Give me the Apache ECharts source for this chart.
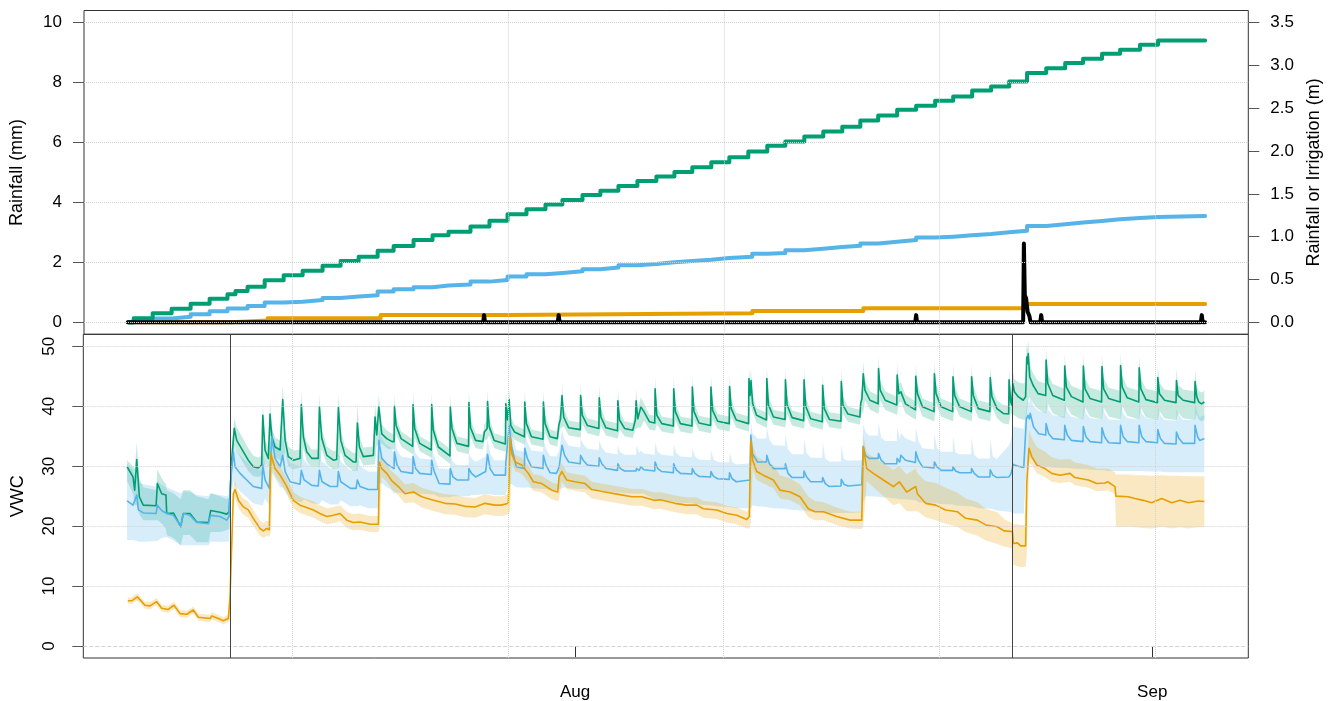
<!DOCTYPE html>
<html><head><meta charset="utf-8">
<script src="https://cdn.jsdelivr.net/npm/echarts@6/dist/echarts.min.js"></script>
<style>html,body{margin:0;padding:0;background:#fff}#c{width:1334px;height:701px}</style>
</head><body><div id="c"></div>
<script>
// x values are days since 1 July (1 Aug = 31, 1 Sep = 62)
const monthTicks = [31, 62];
const monthLabels = ['Aug', 'Sep'];
const gridDays = [15.80, 27.39, 38.98, 50.56, 62.15];
const eventDays = [12.47, 54.47];
const rainTicks = [0, 2, 4, 6, 8, 10];
const cumTicks = [0, 0.5, 1, 1.5, 2, 2.5, 3, 3.5];
const vwcTicks = [0, 10, 20, 30, 40, 50];

// rainfall (mm), left axis of top panel
const rainMm = [[6.94,0],[26.04,0],[26.09,0.24],[26.14,0],[30.05,0],[30.10,0.24],[30.15,0],[49.26,0],[49.31,0.24],[49.36,0],[55.06,0],[55.10,2.63],[55.15,0.9],[55.22,0.8],[55.30,0.35],[55.40,0.2],[55.46,0],[55.98,0],[56.03,0.24],[56.08,0],[64.61,0],[64.66,0.24],[64.71,0],[64.84,0]];

// cumulative rainfall or irrigation (m), right axis of top panel
const cumGreen = [[6.98,0],[7.26,0.047],[8.28,0.105],[9.30,0.159],[10.32,0.217],[11.34,0.276],[12.30,0.327],[12.73,0.366],[13.38,0.416],[14.30,0.49],[15.32,0.549],[16.34,0.603],[17.41,0.661],[18.38,0.716],[19.35,0.766],[20.37,0.836],[21.23,0.891],[22.30,0.961],[23.32,1.016],[24.18,1.058],[25.36,1.117],[26.38,1.187],[27.35,1.262],[28.37,1.320],[29.39,1.374],[30.30,1.429],[31.38,1.487],[32.34,1.537],[33.31,1.592],[34.33,1.651],[35.35,1.701],[36.32,1.756],[37.28,1.811],[38.30,1.869],[39.27,1.928],[40.29,1.993],[41.31,2.060],[42.28,2.110],[43.30,2.168],[44.32,2.227],[45.34,2.282],[46.31,2.355],[47.27,2.414],[48.29,2.480],[49.31,2.527],[50.33,2.585],[51.30,2.636],[52.32,2.706],[53.34,2.752],[54.31,2.811],[55.27,2.909],[56.30,2.967],[57.32,3.026],[58.28,3.076],[59.30,3.134],[60.27,3.181],[61.34,3.239],[62.31,3.290],[64.84,3.290]];
const cumBlue = [[6.98,0],[7.26,0.02],[8.28,0.045],[9.30,0.065],[10.32,0.095],[11.34,0.13],[12.30,0.16],[13.38,0.19],[14.30,0.23],[15.32,0.24],[16.34,0.26],[17.41,0.285],[18.38,0.30],[19.35,0.315],[20.37,0.36],[21.23,0.385],[22.30,0.41],[23.32,0.43],[24.18,0.44],[25.36,0.475],[26.38,0.495],[27.35,0.535],[28.37,0.56],[29.39,0.575],[30.30,0.595],[31.38,0.62],[32.34,0.64],[33.31,0.665],[34.33,0.68],[35.35,0.70],[36.32,0.715],[37.28,0.73],[38.30,0.75],[39.27,0.765],[40.50,0.80],[41.31,0.81],[42.28,0.84],[43.30,0.86],[44.32,0.878],[45.34,0.893],[46.31,0.92],[47.27,0.94],[48.29,0.96],[49.31,0.989],[50.33,1.00],[51.30,1.016],[52.32,1.031],[53.34,1.051],[54.31,1.07],[55.27,1.125],[56.30,1.145],[57.32,1.164],[58.28,1.184],[59.30,1.203],[60.27,1.218],[61.34,1.23],[62.31,1.24],[64.84,1.24]];
const cumOrange = [[6.98,0],[12.47,0.02],[14.46,0.047],[20.53,0.085],[27.35,0.105],[40.51,0.132],[46.47,0.164],[55.27,0.214],[64.84,0.214]];

// VWC rows: [day, mean, lower, upper]
const greenRows = [
[6.94,29.9,27.5,31.0],[7.26,28.2,25.5,30.0],[7.35,26.0,23.5,29.5],[7.46,31.1,23.5,34.0],[7.60,24.9,22.0,28.0],[7.81,23.5,21.0,26.5],[8.50,23.4,21.0,26.0],[8.57,27.1,21.0,29.5],[8.80,25.4,20.5,28.0],[9.03,25.2,19.5,27.0],[9.07,22.1,18.5,26.0],[9.43,22.2,18.0,25.5],[9.82,19.9,16.8,24.5],[9.96,22.1,18.5,26.0],[10.32,22.1,18.5,26.0],[10.68,20.7,17.3,25.0],[11.31,20.6,17.3,24.5],[11.43,22.6,19.0,25.5],[11.93,22.3,19.0,25.0],[12.29,22.0,19.3,24.5],[12.42,22.4,19.5,24.8],
[12.56,31.0,29.0,33.5],[12.70,36.3,33.5,38.0],[12.83,34.3,32.5,36.5],[13.19,32.4,30.5,34.5],[13.45,31.0,29.2,33.0],[13.72,29.9,28.3,31.8],[13.99,29.7,28.2,31.4],[14.17,30.2,28.5,31.8],[14.23,38.5,28.5,40.5],[14.35,32.7,30.5,34.5],[14.53,31.3,29.7,33.0],[14.62,38.7,29.7,41.0],[14.71,34.9,33.0,36.5],[14.89,33.2,31.5,34.8],[15.16,32.7,31.0,34.3],[15.30,41.1,31.0,43.5],[15.43,34.3,32.5,36.0],[15.60,31.6,30.0,33.3],[15.87,31.0,29.5,32.6],[16.23,31.3,29.8,32.8],[16.30,40.3,29.8,42.5],[16.41,34.9,33.0,36.5],[16.59,32.4,30.8,34.0],[16.86,31.3,29.8,32.8],[17.21,31.3,29.8,32.8],[17.27,39.9,29.8,42.0],[17.40,34.6,32.8,36.3],[17.67,31.8,30.3,33.3],[18.02,31.0,29.5,32.5],[18.20,31.1,29.6,32.6],[18.29,39.8,29.6,42.0],[18.42,34.3,32.5,36.0],[18.65,31.8,30.3,33.3],[19.09,30.7,29.2,32.2],[19.24,30.7,29.2,32.2],[19.31,37.2,29.2,40.5],[19.42,33.2,31.5,35.0],[19.63,31.6,30.1,33.1],[20.17,31.8,30.3,33.3],[20.26,38.2,30.3,40.5],[20.35,35.2,33.5,37.0],[20.46,39.9,33.5,42.0],[20.62,35.4,33.8,37.0],[20.89,34.6,33.0,36.0],[21.17,34.1,32.8,35.4],
[21.28,34.1,32.8,35.3],[21.30,40.0,32.8,42.0],[21.39,36.8,35.3,38.3],[21.66,34.6,33.3,35.8],
[22.28,33.3,32.0,34.5],[22.30,40.3,32.0,42.3],[22.39,36.3,34.8,37.8],[22.66,33.8,32.5,35.0],
[23.28,32.7,31.4,33.9],[23.30,40.3,31.4,42.3],[23.39,36.0,34.5,37.5],[23.66,33.2,31.9,34.4],
[24.28,31.7,30.4,32.9],[24.30,39.9,30.4,41.9],[24.39,36.3,34.8,37.8],[24.66,33.8,32.5,35.0],
[25.28,33.3,32.0,34.5],[25.30,40.6,32.0,42.6],[25.39,36.4,34.9,37.9],[25.66,34.3,33.0,35.5],[26.05,34.1,32.8,35.3],[26.13,35.7,34.2,37.0],
[26.28,36.3,34.5,37.6],[26.30,40.8,34.5,42.8],[26.39,36.6,35.1,38.1],[26.66,34.3,33.0,35.5],
[27.26,33.7,32.4,34.9],[27.28,40.4,32.4,42.4],[27.37,37.7,36.2,39.2],[27.46,41.1,36.2,43.1],[27.55,36.8,35.3,38.3],[27.75,35.7,34.4,36.9],
[28.28,34.9,33.6,36.1],[28.30,40.7,33.6,42.7],[28.39,37.1,35.6,38.6],[28.66,34.9,33.6,36.1],
[29.28,34.5,33.2,35.7],[29.30,40.7,33.2,42.7],[29.39,37.1,35.6,38.6],[29.66,34.9,33.6,36.1],[30.05,34.6,33.3,35.8],[30.13,36.8,35.3,38.2],[30.22,37.9,36.4,39.3],
[30.28,37.9,36.4,39.3],[30.30,41.8,36.4,43.8],[30.39,38.2,36.7,39.7],[30.66,36.4,35.1,37.6],
[31.28,36.1,34.8,37.3],[31.30,41.8,34.8,43.8],[31.39,38.5,37.0,40.0],[31.66,36.8,35.5,38.0],
[32.28,36.3,35.0,37.5],[32.30,41.4,35.0,43.4],[32.39,38.2,36.7,39.7],[32.66,36.4,35.1,37.6],
[33.28,35.9,34.6,37.1],[33.30,40.9,34.6,42.9],[33.39,37.7,36.2,39.2],[33.66,36.3,35.0,37.5],[34.10,36.0,34.7,37.2],[34.24,37.7,36.2,38.9],
[34.28,40.9,36.2,42.9],[34.37,37.9,36.4,39.4],[34.54,39.9,36.4,41.5],[34.70,39.1,37.6,40.5],[35.00,37.4,36.1,38.6],
[35.28,37.2,35.9,38.4],[35.30,42.9,35.9,44.9],[35.39,38.5,37.0,40.0],[35.66,37.1,35.8,38.3],
[36.28,36.7,35.4,37.9],[36.30,42.9,35.4,44.9],[36.39,39.1,37.6,40.6],[36.66,37.1,35.8,38.3],
[37.28,36.7,35.4,37.9],[37.30,43.2,35.4,45.2],[37.39,39.1,37.6,40.6],[37.66,37.2,35.9,38.4],
[38.28,36.8,35.5,38.0],[38.30,43.2,35.5,45.2],[38.39,39.3,37.8,40.8],[38.66,37.5,36.2,38.7],
[39.28,37.1,35.8,38.3],[39.30,43.3,35.8,45.3],[39.39,39.6,38.1,41.1],[39.66,37.7,36.4,38.9],
[40.32,37.1,35.8,38.3],[40.34,44.6,35.8,46.6],[40.40,41.8,40.0,43.5],[40.45,44.3,40.0,46.3],[40.54,40.4,38.9,41.9],[40.75,38.5,37.2,39.7],
[41.28,37.7,36.4,38.9],[41.30,44.6,36.4,46.6],[41.39,40.2,38.7,41.7],[41.66,38.2,36.9,39.4],
[42.28,37.8,36.5,39.0],[42.30,44.4,36.5,46.4],[42.39,40.2,38.7,41.7],[42.66,38.1,36.8,39.3],
[43.28,37.6,36.3,38.8],[43.30,44.4,36.3,46.4],[43.39,40.0,38.5,41.5],[43.66,37.9,36.6,39.1],
[44.28,37.4,36.1,38.6],[44.30,43.5,36.1,45.5],[44.39,39.6,38.1,41.1],[44.66,37.8,36.5,39.0],
[45.28,37.5,36.2,38.7],[45.30,44.1,36.2,46.1],[45.39,40.2,38.7,41.7],[45.66,38.7,37.4,39.9],
[46.30,38.2,36.9,39.4],[46.34,40.4,38.0,42.0],[46.41,41.3,39.0,43.0],[46.48,45.4,39.0,47.4],[46.57,42.7,41.0,44.3],[46.84,41.0,39.4,42.5],
[47.28,40.4,38.8,41.8],[47.30,46.3,38.8,48.3],[47.39,42.7,41.0,44.3],[47.66,41.0,39.4,42.5],
[48.28,40.2,38.6,41.6],[48.30,45.2,38.6,47.2],[48.39,42.1,40.5,43.7],[48.50,42.4,40.8,44.0],[48.75,40.4,38.8,41.9],
[49.28,39.4,37.8,40.8],[49.30,45.0,37.8,47.0],[49.39,42.1,40.5,43.7],[49.66,39.9,38.3,41.3],
[50.28,39.1,37.5,40.5],[50.30,45.4,37.5,47.4],[50.39,42.1,40.5,43.7],[50.66,39.9,38.3,41.3],
[51.28,39.1,37.5,40.5],[51.30,44.9,37.5,46.9],[51.39,41.8,40.2,43.4],[51.66,39.9,38.3,41.3],
[52.28,39.1,37.5,40.5],[52.30,44.9,37.5,46.9],[52.39,41.8,40.2,43.4],[52.66,39.6,38.0,41.0],
[53.28,39.1,37.5,40.5],[53.30,44.8,37.5,46.8],[53.39,41.6,40.0,43.2],[53.66,39.6,38.0,41.0],[54.00,38.8,37.1,40.2],
[54.29,38.7,37.0,40.1],[54.31,44.4,37.0,46.4],[54.40,40.7,39.0,42.3],[54.46,40.2,38.5,41.8],[54.51,43.8,38.5,45.8],[54.60,42.4,38.5,44.5],[54.80,41.6,38.0,44.0],[55.07,41.0,37.8,43.8],[55.20,41.6,37.8,44.0],
[55.26,48.2,38.5,50.5],[55.30,47.1,40.0,49.5],[55.34,48.8,41.0,51.0],[55.42,44.9,41.5,47.0],[55.60,43.5,40.5,45.5],[55.87,42.1,39.5,44.2],
[56.28,41.8,38.8,43.8],[56.30,47.7,38.8,49.7],[56.39,43.8,40.5,45.5],[56.66,41.8,38.8,43.7],
[57.28,41.0,38.0,42.9],[57.30,46.7,38.0,48.7],[57.39,43.2,40.0,45.0],[57.66,41.6,38.6,43.4],
[58.28,40.7,37.8,42.6],[58.30,46.7,37.8,48.7],[58.39,42.9,39.8,44.7],[58.66,41.3,38.3,43.1],
[59.28,40.7,37.8,42.6],[59.30,46.6,37.8,48.6],[59.39,42.9,39.8,44.7],[59.66,41.3,38.3,43.1],
[60.28,40.7,37.8,42.6],[60.30,46.8,37.8,48.8],[60.39,43.2,40.0,45.0],[60.66,41.4,38.4,43.2],
[61.28,40.7,37.8,42.6],[61.30,46.4,37.8,48.4],[61.39,42.9,39.8,44.7],[61.66,41.1,38.1,42.9],
[62.28,40.6,37.7,42.5],[62.30,44.8,37.7,46.8],[62.39,42.1,39.2,43.9],[62.66,41.0,38.0,42.8],
[63.28,40.6,37.7,42.5],[63.30,44.3,37.7,46.3],[63.39,41.8,38.9,43.6],[63.66,41.0,38.0,42.8],
[64.28,40.6,37.7,42.5],[64.30,44.1,37.7,46.1],[64.39,41.6,38.7,43.4],[64.50,40.7,37.8,42.6],[64.65,40.4,37.5,42.3],[64.80,40.7,37.8,42.6]
];

const blueRows = [
[6.94,24.2,17.7,30.4],[7.26,23.5,17.7,29.5],[7.35,23.2,17.6,28.5],[7.46,25.2,17.5,28.5],[7.55,22.7,17.4,27.3],[7.81,22.2,17.4,27.0],[8.50,22.1,17.5,26.6],[8.57,23.5,17.5,27.5],[8.80,22.6,18.0,26.8],[9.07,22.1,18.2,26.5],[9.43,21.8,17.6,26.0],[9.82,20.0,16.8,25.5],[9.96,22.1,16.8,25.8],[10.32,21.8,16.8,25.7],[10.68,20.6,16.8,25.2],[11.31,20.4,16.8,25.0],[11.43,21.8,17.4,25.5],[11.93,21.6,17.4,25.2],[12.29,21.0,17.4,25.0],[12.42,21.6,17.4,25.2],
[12.51,27.7,24.5,30.5],[12.65,32.4,27.5,34.5],[12.74,29.9,26.8,33.0],[13.01,28.8,25.8,31.8],[13.37,27.7,24.8,30.7],[13.72,26.6,23.8,29.6],[14.17,26.3,23.5,29.3],[14.23,30.2,23.5,32.5],[14.35,27.7,24.6,30.5],[14.58,26.3,23.5,29.3],[14.71,34.9,29.0,36.5],[14.89,31.3,28.0,34.0],[15.16,29.9,26.5,32.7],[15.30,31.8,26.5,35.0],[15.43,29.1,26.0,32.5],[15.70,27.4,24.5,30.5],[16.23,27.0,24.0,30.0],[16.30,29.3,24.0,32.5],[16.45,27.7,24.5,31.0],[16.86,26.8,23.8,29.8],[17.21,26.7,23.7,29.7],[17.27,29.3,23.7,32.5],[17.41,27.4,24.3,30.8],[17.85,26.6,23.6,29.6],[18.24,26.6,23.6,29.6],[18.29,29.1,23.6,32.3],[18.42,27.4,24.3,30.8],[18.94,26.3,23.3,29.3],[19.24,26.3,23.3,29.3],[19.31,27.7,23.3,31.5],[19.45,26.6,23.5,30.0],[19.90,26.1,23.0,29.1],[20.40,26.1,23.0,29.1],[20.46,34.3,27.0,36.5],[20.62,31.3,27.2,34.5],[20.89,30.4,26.5,33.5],[21.07,30.0,26.2,33.2],
[21.28,29.6,25.5,32.1],[21.30,32.4,25.5,34.9],[21.44,30.2,25.6,32.7],[21.66,29.1,25.5,31.6],
[22.28,28.8,25.4,31.3],[22.30,31.6,25.4,34.1],[22.44,29.6,25.5,32.1],[22.66,28.8,25.4,31.3],
[23.28,28.6,25.3,31.1],[23.30,31.0,25.3,33.5],[23.44,29.1,25.3,31.6],[23.70,27.1,24.8,29.6],
[24.28,27.0,24.8,29.5],[24.30,29.6,24.8,32.1],[24.44,28.2,25.0,30.7],[24.66,27.7,25.0,30.2],
[25.28,27.7,25.0,30.2],[25.30,29.6,25.0,32.1],[25.44,28.8,25.2,31.3],[25.66,28.2,25.2,30.7],[26.20,29.1,25.3,31.6],
[26.30,32.0,25.3,34.5],[26.44,29.6,25.3,32.1],[26.66,28.5,25.2,31.0],
[27.26,28.5,25.2,31.0],[27.28,30.4,25.3,33.0],[27.46,36.8,27.0,38.5],[27.60,33.2,27.0,35.8],[27.84,29.9,26.5,32.7],
[28.28,29.6,26.4,32.4],[28.30,33.0,26.4,35.5],[28.44,31.3,26.5,33.9],[28.66,29.9,26.3,32.6],
[29.28,29.6,26.2,32.4],[29.30,31.8,26.2,34.5],[29.44,30.2,26.2,32.9],[29.66,28.9,26.0,31.7],[30.00,28.8,26.0,31.6],[30.15,29.9,26.2,32.6],
[30.30,33.5,26.3,36.0],[30.44,31.8,26.5,34.4],[30.66,30.7,26.3,33.4],
[31.28,30.4,26.2,33.1],[31.30,31.8,26.2,34.6],[31.44,31.0,26.2,33.7],[31.66,30.2,26.1,32.9],
[32.28,30.0,26.0,32.7],[32.30,31.4,26.0,34.3],[32.44,30.4,26.0,33.1],[32.66,29.6,25.8,32.3],
[33.28,29.3,25.6,32.0],[33.30,30.4,25.6,33.4],[33.44,29.6,25.6,32.3],[33.66,29.2,25.5,31.9],
[34.28,29.2,25.4,31.9],[34.30,29.6,25.4,33.5],[34.44,29.3,25.4,32.2],[34.54,29.9,25.4,32.6],[34.70,29.4,25.4,32.1],
[35.28,29.2,24.5,31.9],[35.30,30.7,24.5,34.0],[35.44,29.6,24.4,32.4],[35.66,29.1,24.3,31.9],
[36.28,28.9,24.1,31.7],[36.30,30.4,24.1,33.6],[36.44,29.4,24.0,32.2],[36.66,28.8,23.9,31.6],
[37.28,28.7,23.8,31.5],[37.30,29.6,23.8,33.0],[37.44,28.8,23.7,31.6],[37.66,28.3,23.6,31.1],
[38.28,28.2,23.5,31.0],[38.30,29.1,23.5,32.6],[38.44,28.3,23.4,31.1],[38.66,27.9,23.3,30.7],
[39.28,27.8,23.2,30.6],[39.30,28.9,23.2,32.3],[39.44,27.9,23.1,30.7],[39.66,27.4,23.0,30.3],
[40.40,27.7,23.0,30.5],[40.44,35.2,23.0,37.5],[40.53,32.1,23.5,35.5],[40.80,30.7,23.3,34.6],
[41.28,30.7,23.2,34.6],[41.30,31.8,23.2,36.5],[41.44,30.4,23.1,34.4],[41.66,29.6,23.0,33.5],
[42.28,29.6,22.9,33.4],[42.30,30.4,22.9,35.3],[42.44,28.8,22.8,32.8],[42.66,28.1,22.7,32.0],
[43.28,28.1,22.6,32.0],[43.30,29.2,22.6,34.6],[43.44,28.2,22.5,32.2],[43.66,27.4,22.4,31.4],
[44.28,27.4,22.3,31.4],[44.30,28.1,22.3,34.0],[44.44,27.1,22.2,31.3],[44.66,26.6,22.2,30.8],
[45.28,26.7,22.2,30.8],[45.30,27.8,22.2,33.5],[45.44,27.0,22.2,31.2],[45.66,26.7,22.2,30.9],[46.40,26.9,22.3,31.0],
[46.48,33.3,24.0,37.0],[46.60,31.8,25.0,35.7],[46.80,31.3,25.0,35.1],
[47.28,31.3,24.9,35.1],[47.30,32.1,24.9,37.3],[47.44,31.0,24.8,34.8],[47.66,30.4,24.8,34.2],
[48.28,30.4,24.6,34.2],[48.30,31.3,24.6,36.5],[48.44,30.7,24.5,34.5],[48.50,31.8,24.5,35.5],[48.75,31.0,24.5,34.6],
[49.28,30.6,24.3,34.0],[49.30,32.4,24.3,36.5],[49.44,31.0,24.0,34.2],[49.66,29.9,23.9,33.0],
[50.28,29.7,23.8,32.8],[50.30,30.7,23.8,35.5],[50.44,29.9,23.8,33.0],[50.66,29.3,23.7,32.4],
[51.28,29.3,23.6,32.4],[51.30,29.9,23.6,35.0],[51.44,29.2,23.5,32.3],[51.66,28.9,23.4,32.0],
[52.28,28.9,23.3,32.0],[52.30,29.6,23.3,34.8],[52.44,28.8,23.2,31.9],[52.66,28.2,23.0,31.3],
[53.28,28.2,22.9,31.3],[53.30,29.4,22.9,34.5],[53.44,28.5,22.8,31.6],[53.66,28.1,22.6,31.2],
[54.31,28.2,22.4,33.5],[54.42,28.8,22.3,34.5],[54.54,30.3,22.1,36.6],[54.80,30.0,22.1,36.4],[55.10,29.8,22.1,36.2],
[55.24,37.9,29.5,40.0],[55.33,38.5,30.5,41.0],[55.40,37.9,31.0,40.5],[55.45,38.8,31.5,41.5],[55.62,36.6,30.8,40.0],[55.90,35.4,30.2,39.2],
[56.28,35.2,29.9,39.0],[56.30,37.1,29.9,41.0],[56.44,35.4,29.9,39.3],[56.66,34.6,29.8,38.5],
[57.28,34.4,29.7,38.3],[57.30,36.8,29.7,40.7],[57.44,35.2,29.7,39.1],[57.66,34.3,29.6,38.2],
[58.28,34.1,29.5,38.0],[58.30,36.6,29.5,40.5],[58.44,34.9,29.5,38.8],[58.66,34.1,29.4,38.0],
[59.28,33.9,29.3,37.8],[59.30,36.4,29.3,40.3],[59.44,34.9,29.3,38.8],[59.66,33.9,29.2,37.8],
[60.28,33.8,29.2,37.7],[60.30,36.8,29.2,40.7],[60.44,34.9,29.2,38.8],[60.66,34.1,29.2,38.0],
[61.28,33.9,29.2,37.8],[61.30,36.8,29.2,40.7],[61.44,34.9,29.2,38.8],[61.66,34.1,29.1,38.0],
[62.28,33.9,29.1,37.8],[62.30,36.1,29.1,40.0],[62.44,34.6,29.1,38.5],[62.66,33.8,29.0,37.7],
[63.28,33.7,29.0,37.6],[63.30,35.7,29.0,39.6],[63.44,34.6,29.0,38.5],[63.66,33.8,29.0,37.7],
[64.28,33.8,29.0,37.7],[64.30,36.8,29.0,40.7],[64.44,34.9,29.0,38.8],[64.55,34.3,29.0,38.2],[64.80,34.6,29.0,38.5]
];

const orangeRows = [
[6.98,7.56,7.0,8.1],[7.21,7.56,7.0,8.1],[7.28,7.8,7.2,8.4],[7.49,8.2,7.6,8.8],[7.64,7.7,7.1,8.3],[7.90,6.8,6.2,7.4],[8.17,6.7,6.1,7.3],[8.53,7.4,6.8,8.0],[8.80,6.3,5.7,6.9],[9.15,6.1,5.5,6.7],[9.46,6.8,6.2,7.4],[9.79,5.4,4.8,6.0],[10.15,5.3,4.7,5.9],[10.50,6.0,5.4,6.6],[10.77,4.8,4.2,5.4],[11.40,4.6,4.0,5.2],[11.49,5.0,4.4,5.6],[11.84,4.6,4.0,5.2],[12.11,4.2,3.6,4.8],[12.38,4.6,4.0,5.2],
[12.47,8.2,4.2,9.0],[12.65,25.4,23.8,26.8],[12.74,26.1,24.8,27.5],[12.92,24.3,23.0,25.7],[13.19,23.2,21.9,24.6],[13.45,22.7,21.4,24.1],[13.72,21.3,20.0,22.7],[14.08,19.6,18.4,21.0],[14.26,19.2,18.0,20.5],[14.44,19.6,18.4,20.9],[14.58,19.4,18.2,20.7],
[14.66,32.1,19.0,33.5],[14.76,31.0,29.7,32.5],[14.89,29.6,28.3,31.0],[15.16,28.5,27.2,29.9],[15.52,26.6,25.3,28.0],[15.87,24.3,23.0,25.7],[16.23,23.5,22.2,24.9],[16.50,23.2,21.9,24.6],[16.77,22.9,21.6,24.3],[16.95,22.7,21.4,24.1],[17.30,22.1,20.8,23.5],[17.67,21.6,20.3,23.0],[18.02,21.8,20.5,23.2],[18.38,22.1,20.8,23.5],[18.74,21.0,19.7,22.4],[19.09,20.6,19.3,22.0],[19.45,20.7,19.4,22.1],[19.99,20.3,19.0,21.7],[20.44,20.3,19.0,21.7],
[20.49,30.7,19.5,32.0],[20.62,29.6,28.2,31.1],[20.89,28.8,27.4,30.3],[21.15,27.6,26.2,29.2],[21.51,26.6,25.1,28.2],[21.87,25.4,23.8,27.0],[22.32,25.7,24.0,27.2],[22.77,24.9,23.1,26.4],[23.30,24.4,22.6,25.9],[23.66,24.1,22.3,25.6],[24.02,23.8,22.0,25.3],[24.56,23.7,21.9,25.2],[25.09,23.3,21.5,24.8],[25.63,23.2,21.4,24.7],[26.16,23.8,22.0,25.3],[26.70,23.5,21.7,25.0],[27.06,23.5,21.7,25.0],[27.42,23.8,22.0,25.3],
[27.51,34.9,22.5,36.0],[27.60,32.1,30.6,33.3],[27.78,30.7,29.2,31.9],[28.14,30.2,28.7,31.4],[28.49,28.8,27.3,30.1],[28.76,27.4,25.9,28.7],[29.21,27.1,25.6,28.4],[29.75,26.0,24.5,27.3],[30.07,25.7,24.2,27.0],[30.14,28.2,24.4,29.5],[30.29,29.1,27.5,30.5],[30.55,27.7,26.2,29.0],[31.00,27.4,25.9,28.7],[31.54,27.1,25.6,28.4],[31.90,26.1,24.6,27.4],[32.61,25.7,24.2,27.0],[33.33,25.3,23.8,26.6],[34.05,24.9,23.4,26.2],[34.58,24.9,23.4,26.2],[35.26,24.3,22.8,25.6],[35.56,24.4,22.9,25.7],[36.37,23.8,22.3,25.1],[37.00,23.5,22.0,24.8],[37.54,23.5,22.0,24.8],[37.89,22.9,21.4,24.2],[38.61,22.7,21.2,24.0],[39.15,22.1,20.6,23.4],[39.68,21.8,20.3,23.1],[40.22,21.1,19.6,22.4],[40.36,21.6,19.6,22.9],
[40.44,34.3,20.5,35.5],[40.54,31.0,29.5,33.5],[40.76,29.1,27.7,31.6],[41.11,28.5,27.1,31.0],[41.65,27.7,26.3,30.2],[42.01,26.0,24.6,28.5],[42.55,25.7,24.3,28.0],[43.08,24.9,23.5,27.0],[43.53,22.9,21.5,24.9],[43.89,22.4,21.0,24.2],[44.34,22.4,21.0,24.0],[45.05,21.6,20.2,23.1],[45.77,21.0,19.6,22.4],[46.40,21.0,19.5,22.4],
[46.48,33.2,20.0,35.2],[46.67,29.6,27.5,32.3],[47.02,28.8,26.5,31.5],[47.56,27.7,25.0,30.5],[48.10,26.6,23.5,29.4],[48.42,27.4,23.8,30.0],[48.81,25.7,22.5,28.6],[49.30,26.6,22.5,29.6],[49.39,25.4,22.5,28.8],[49.83,23.8,21.5,27.5],[50.37,23.5,21.0,27.2],[50.90,22.7,20.4,26.4],[51.53,22.4,19.9,25.6],[51.98,21.3,19.0,24.6],[52.61,21.0,18.4,24.0],[53.06,20.2,17.6,22.9],[53.68,19.9,17.0,22.3],[54.04,19.2,16.6,21.2],[54.49,19.1,16.3,20.5],
[54.54,17.1,13.5,20.3],[54.76,17.2,13.3,20.3],[54.93,16.7,13.2,20.2],[55.20,16.7,13.2,20.2],
[55.26,27.1,15.0,29.0],[55.38,33.0,30.5,36.0],[55.53,31.6,30.2,34.7],[55.80,30.2,28.8,33.2],[56.24,29.6,28.2,32.4],[56.60,28.8,27.4,31.5],[57.05,28.5,27.2,31.1],[57.58,28.8,27.4,31.2],[57.85,28.1,26.8,30.6],[58.57,27.7,26.4,30.2],[59.02,27.1,25.8,29.6],[59.46,27.2,25.9,29.6],[59.61,27.4,26.0,29.6],[60.00,26.6,25.3,29.0],
[60.05,25.0,19.9,28.6],[60.71,24.9,19.9,28.6],[61.07,24.6,19.8,28.5],[61.52,24.3,19.7,28.5],[61.97,23.9,19.6,28.4],[62.51,24.6,19.9,28.5],[63.05,23.9,19.6,28.4],[63.49,24.3,19.8,28.4],[63.94,23.9,19.6,28.3],[64.48,24.2,19.8,28.3],[64.80,24.1,19.8,28.3]
];

// ---------- chart ----------
const FONT = 'Liberation Sans, Arial, Helvetica, sans-serif';
const C_GREEN = '#009E73', C_BLUE = '#56B4E9', C_ORANGE = '#E69F00';
const X_MIN = 4.59, X_MAX = 67.16;
const GRIDCOL = '#d3d3d3';

function bandSeries(rows, fill) {
  return {
    type: 'custom', xAxisIndex: 1, yAxisIndex: 2, silent: true, z: 1, clip: true,
    data: [[rows[0][0], rows[0][1]]],
    renderItem: function (params, api) {
      const pts = [];
      for (let i = 0; i < rows.length; i++) pts.push(api.coord([rows[i][0], rows[i][3]]));
      for (let i = rows.length - 1; i >= 0; i--) pts.push(api.coord([rows[i][0], rows[i][2]]));
      return { type: 'polygon', shape: { points: pts }, style: { fill: fill } };
    }
  };
}
function meanLine(rows, color) {
  return {
    type: 'line', xAxisIndex: 1, yAxisIndex: 2, z: 2, showSymbol: false, silent: true,
    data: rows.map(r => [r[0], r[1]]),
    lineStyle: { color: color, width: 1.6, join: 'round' }
  };
}
function cumLine(data, color) {
  return {
    type: 'line', xAxisIndex: 0, yAxisIndex: 1, z: 2, showSymbol: false, silent: true, step: 'end',
    data: data, lineStyle: { color: color, width: 4, cap: 'round', join: 'round' }
  };
}
function guide(xi, yi, marks, style) {
  return {
    type: 'line', xAxisIndex: xi, yAxisIndex: yi, data: [], silent: true, z: 0,
    markLine: { silent: true, symbol: 'none', animation: false, label: { show: false },
      lineStyle: style, data: marks }
  };
}
// baseline of the rainfall record (first and last record times, zero rain)
const rainBase = [[rainMm[0][0], 0], [rainMm[rainMm.length - 1][0], 0]];

const chart = echarts.init(document.getElementById('c'), null, { renderer: 'canvas' });
const labelStyle = { fontFamily: FONT, fontSize: 17, color: '#000' };
const nameStyle = { fontFamily: FONT, fontSize: 18, color: '#000' };

chart.setOption({
  animation: false,
  backgroundColor: '#fff',
  grid: [
    { left: 83.3, top: 10.5, width: 1165, height: 323.8, show: true, borderColor: '#333', borderWidth: 1, backgroundColor: 'transparent' },
    { left: 83.3, top: 334.3, width: 1165, height: 324, show: true, borderColor: '#333', borderWidth: 1, backgroundColor: 'transparent' }
  ],
  xAxis: [
    { type: 'value', gridIndex: 0, min: X_MIN, max: X_MAX, show: false },
    { type: 'value', gridIndex: 1, min: X_MIN, max: X_MAX, position: 'bottom',
      axisLine: { show: false }, splitLine: { show: false },
      axisTick: { show: true, customValues: monthTicks, length: 11, lineStyle: { color: '#333' } },
      axisLabel: Object.assign({ customValues: monthTicks, margin: 26,
        formatter: v => monthLabels[monthTicks.indexOf(v)] || '' }, labelStyle) }
  ],
  yAxis: [
    { type: 'value', gridIndex: 0, min: -0.4, max: 10.4, position: 'left',
      name: 'Rainfall (mm)', nameLocation: 'middle', nameGap: 58, nameRotate: 90, nameTextStyle: nameStyle,
      axisLine: { show: false }, splitLine: { show: false },
      axisTick: { show: true, customValues: rainTicks, length: 11, lineStyle: { color: '#555' } },
      axisLabel: Object.assign({ customValues: rainTicks, margin: 22 }, labelStyle) },
    { type: 'value', gridIndex: 0, min: -0.14, max: 3.64, position: 'right',
      name: 'Rainfall or Irrigation (m)', nameLocation: 'middle', nameGap: 56, nameRotate: 90, nameTextStyle: nameStyle,
      axisLine: { show: false }, splitLine: { show: false },
      axisTick: { show: true, customValues: cumTicks, length: 11, lineStyle: { color: '#555' } },
      axisLabel: Object.assign({ customValues: cumTicks, margin: 22, formatter: v => v.toFixed(1) }, labelStyle) },
    { type: 'value', gridIndex: 1, min: -2, max: 52, position: 'left',
      name: 'VWC', nameLocation: 'middle', nameGap: 56, nameRotate: 90, nameTextStyle: nameStyle,
      axisLine: { show: false }, splitLine: { show: false },
      axisTick: { show: true, customValues: vwcTicks, length: 11, lineStyle: { color: '#555' } },
      axisLabel: Object.assign({ customValues: vwcTicks, margin: 25, rotate: 90 }, labelStyle) }
  ],
  series: [
    guide(0, 0, gridDays.map(d => ({ xAxis: d })).concat(rainTicks.map(v => ({ yAxis: v }))),
      { type: 'dotted', color: GRIDCOL, width: 1 }),
    guide(1, 2, gridDays.map(d => ({ xAxis: d })).concat(vwcTicks.filter(v => v > 0).map(v => ({ yAxis: v }))),
      { type: 'dotted', color: GRIDCOL, width: 1 }),
    guide(1, 2, [{ yAxis: 0 }], { type: 'dashed', color: GRIDCOL, width: 1 }),
    cumLine(cumOrange, C_ORANGE),
    cumLine(cumBlue, C_BLUE),
    cumLine(cumGreen, C_GREEN),
    { type: 'line', xAxisIndex: 0, yAxisIndex: 0, z: 3, showSymbol: false, silent: true,
      data: rainMm, lineStyle: { color: '#000', width: 4, join: 'round', cap: 'round' } },
    { type: 'line', xAxisIndex: 0, yAxisIndex: 0, z: 4, showSymbol: false, silent: true,
      data: rainBase, lineStyle: { color: '#fff', width: 1, type: [1, 2], opacity: 0.55 } },
    bandSeries(greenRows, 'rgba(0,158,115,0.22)'),
    bandSeries(blueRows, 'rgba(86,180,233,0.24)'),
    bandSeries(orangeRows, 'rgba(230,159,0,0.24)'),
    meanLine(greenRows, C_GREEN),
    meanLine(blueRows, C_BLUE),
    meanLine(orangeRows, C_ORANGE),
    Object.assign(guide(1, 2, eventDays.map(d => ({ xAxis: d })), { type: 'solid', color: '#444', width: 1 }), { z: 5 })
  ]
});
</script>
</body></html>
